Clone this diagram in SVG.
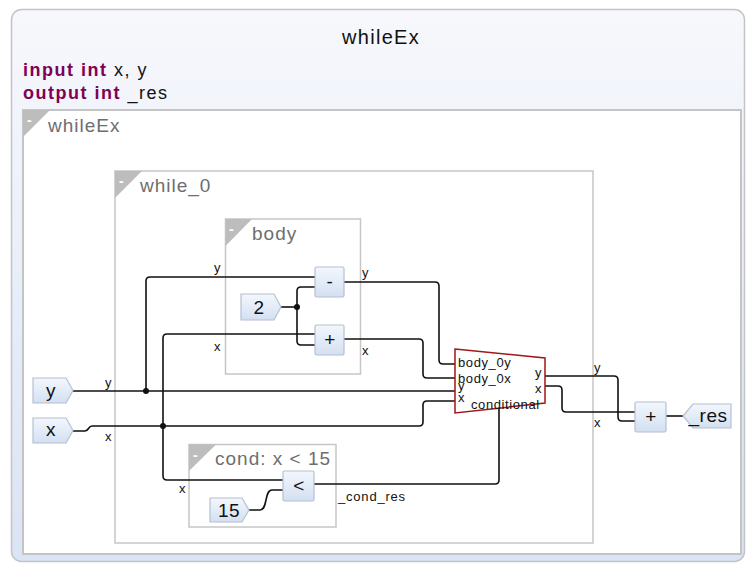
<svg xmlns="http://www.w3.org/2000/svg" width="746" height="565" viewBox="0 0 746 565">
  <defs>
    <linearGradient id="panelFill" x1="0" y1="0" x2="0" y2="1">
      <stop offset="0" stop-color="#f7f8fc"/>
      <stop offset="1" stop-color="#d9e4f5"/>
    </linearGradient>
    <linearGradient id="nodeFill" x1="0" y1="0" x2="0" y2="1">
      <stop offset="0" stop-color="#f3f7fd"/>
      <stop offset="1" stop-color="#d3e0f2"/>
    </linearGradient>
    <style>
      .txt { font-family: "Liberation Sans", Arial, sans-serif; }
      .title { font-size: 20px; letter-spacing: 1.3px; fill: #111; }
      .decl { font-size: 18px; letter-spacing: 1.5px; fill: #111; }
      .kw { font-weight: bold; fill: #7f0055; }
      .frame { fill: none; stroke: #c6c6c6; stroke-width: 1.5; }
      .flabel { font-size: 19px; letter-spacing: 1px; fill: #6e6e6e; }
      .tri { fill: #bdbdbd; }
      .dash { font-size: 14px; fill: #ffffff; font-weight: bold; }
      .node { fill: url(#nodeFill); stroke: #b6c0cf; stroke-width: 1.2; }
      .ntext { font-size: 19px; letter-spacing: 0.5px; fill: #111; text-anchor: middle; }
      .wlabel { font-size: 13px; letter-spacing: 0.8px; fill: #111; }
      .mlabel { font-size: 13px; letter-spacing: 0.6px; fill: #111; }
      .wire { fill: none; stroke: #111; stroke-width: 1.6; }
      .dot { fill: #111; }
      .mux { fill: #ffffff; stroke: #a01818; stroke-width: 1.5; }
    </style>
  </defs>

  <!-- module panel -->
  <g id="module">
    <rect x="11.5" y="9.5" width="733" height="552" rx="10" fill="url(#panelFill)" stroke="#c4c4c4" stroke-width="1.5"/>
    <text class="txt title" x="381" y="44" text-anchor="middle">whileEx</text>
    <text class="txt decl" x="23" y="76"><tspan class="kw">input int</tspan> x, y</text>
    <text class="txt decl" x="23" y="99"><tspan class="kw">output int</tspan> _res</text>
  </g>

  <!-- nested frames -->
  <g id="frame-whileEx">
    <rect x="23" y="110" width="718" height="444" fill="#ffffff" stroke="#c4c4c4" stroke-width="2"/>
    <polygon class="tri" points="23,110 50,110 23,137"/>
    <text class="txt dash" x="27" y="125">-</text>
    <text class="txt flabel" x="48" y="132">whileEx</text>
  </g>
  <g id="frame-while_0">
    <rect class="frame" x="115" y="171" width="478" height="372"/>
    <polygon class="tri" points="115,171 142,171 115,198"/>
    <text class="txt dash" x="119" y="186">-</text>
    <text class="txt flabel" x="140" y="192">while_0</text>
  </g>
  <g id="frame-body">
    <rect class="frame" x="225.5" y="219" width="135" height="155"/>
    <polygon class="tri" points="225.5,219 252,219 225.5,246"/>
    <text class="txt dash" x="229" y="234">-</text>
    <text class="txt flabel" x="252" y="240">body</text>
  </g>
  <g id="frame-cond">
    <rect class="frame" x="189" y="444.5" width="147" height="82.5"/>
    <polygon class="tri" points="189,444.5 216,444.5 189,471"/>
    <text class="txt dash" x="193" y="460">-</text>
    <text class="txt flabel" x="215" y="465">cond: x &lt; 15</text>
  </g>

  <!-- connectors -->
  <g id="connectors">
    <path class="wire" d="M72,391 H455"/>
    <path class="wire" d="M146,391 V281 Q146,277 150,277 H315"/>
    <path class="wire" d="M72,431 H85 C89,431 88,426 92,426 H419 Q423,426 423,422 V405 Q423,401 427,401 H455"/>
    <path class="wire" d="M163,426 V338 Q163,334 167,334 H315"/>
    <path class="wire" d="M163,426 V476 Q163,480 167,480 H283"/>
    <path class="wire" d="M281,307 H297"/>
    <path class="wire" d="M315,287 H301 Q297,287 297,291 V341 Q297,345 301,345 H315"/>
    <path class="wire" d="M344,282 H435 Q439,282 439,286 V360 Q439,364 443,364 H455"/>
    <path class="wire" d="M344,339 H419 Q423,339 423,343 V374 Q423,378 427,378 H455"/>
    <path class="wire" d="M314,484 H495 Q499,484 499,480 V408"/>
    <path class="wire" d="M249,510 H260 C268,510 264,490 272,490 H283"/>
    <path class="wire" d="M545,376 H614 Q618,376 618,380 V417 Q618,421 622,421 H635"/>
    <path class="wire" d="M545,386 H558 Q562,386 562,390 V408 Q562,412 566,412 H635"/>
    <path class="wire" d="M666,416 H683"/>
    <circle class="dot" cx="146" cy="391" r="3"/>
    <circle class="dot" cx="163" cy="426" r="3"/>
    <circle class="dot" cx="297" cy="307" r="3"/>
    <!-- wire labels -->
    <text class="txt wlabel" x="105" y="387">y</text>
    <text class="txt wlabel" x="105" y="441">x</text>
    <text class="txt wlabel" x="214" y="272">y</text>
    <text class="txt wlabel" x="214" y="351">x</text>
    <text class="txt wlabel" x="362" y="277">y</text>
    <text class="txt wlabel" x="362" y="355">x</text>
    <text class="txt wlabel" x="179" y="493">x</text>
    <text class="txt wlabel" x="338" y="501">_cond_res</text>
    <text class="txt wlabel" x="594" y="372">y</text>
    <text class="txt wlabel" x="594" y="427">x</text>
  </g>

  <!-- nodes -->
  <g id="in-y">
    <polygon class="node" points="33,378 66,378 73,390.5 66,403 33,403"/>
    <text class="txt ntext" x="51" y="397">y</text>
  </g>
  <g id="in-x">
    <polygon class="node" points="33,418 66,418 73,430.5 66,443 33,443"/>
    <text class="txt ntext" x="51" y="436">x</text>
  </g>
  <g id="const-2">
    <polygon class="node" points="241,294 274,294 281,307 274,320 241,320"/>
    <text class="txt ntext" x="259" y="314">2</text>
  </g>
  <g id="op-sub">
    <rect class="node" x="315" y="267" width="29" height="30" rx="1.5"/>
    <text class="txt ntext" x="330" y="288">-</text>
  </g>
  <g id="op-add">
    <rect class="node" x="315" y="325" width="29" height="30" rx="1.5"/>
    <text class="txt ntext" x="330" y="346">+</text>
  </g>
  <g id="const-15">
    <polygon class="node" points="210,498 242,498 249,510 242,522 210,522"/>
    <text class="txt ntext" x="229" y="517">15</text>
  </g>
  <g id="op-lt">
    <rect class="node" x="283" y="471" width="31" height="30" rx="1.5"/>
    <text class="txt ntext" x="299" y="492">&lt;</text>
  </g>
  <g id="mux">
    <polygon class="mux" points="455,349 545,358 545,403 455,413"/>
    <text class="txt mlabel" x="458" y="367">body_0y</text>
    <text class="txt mlabel" x="458" y="383">body_0x</text>
    <text class="txt mlabel" x="458" y="390">y</text>
    <text class="txt mlabel" x="458" y="402">x</text>
    <text class="txt mlabel" x="471" y="408.5">conditional</text>
    <text class="txt mlabel" x="542" y="377" text-anchor="end">y</text>
    <text class="txt mlabel" x="542" y="393" text-anchor="end">x</text>
  </g>
  <g id="op-add-res">
    <rect class="node" x="635" y="402" width="31" height="30" rx="1.5"/>
    <text class="txt ntext" x="651" y="423">+</text>
  </g>
  <g id="out-res">
    <polygon class="node" points="683,416 693,404 731,404 731,428 693,428"/>
    <text class="txt ntext" x="708" y="422">_res</text>
  </g>
</svg>
